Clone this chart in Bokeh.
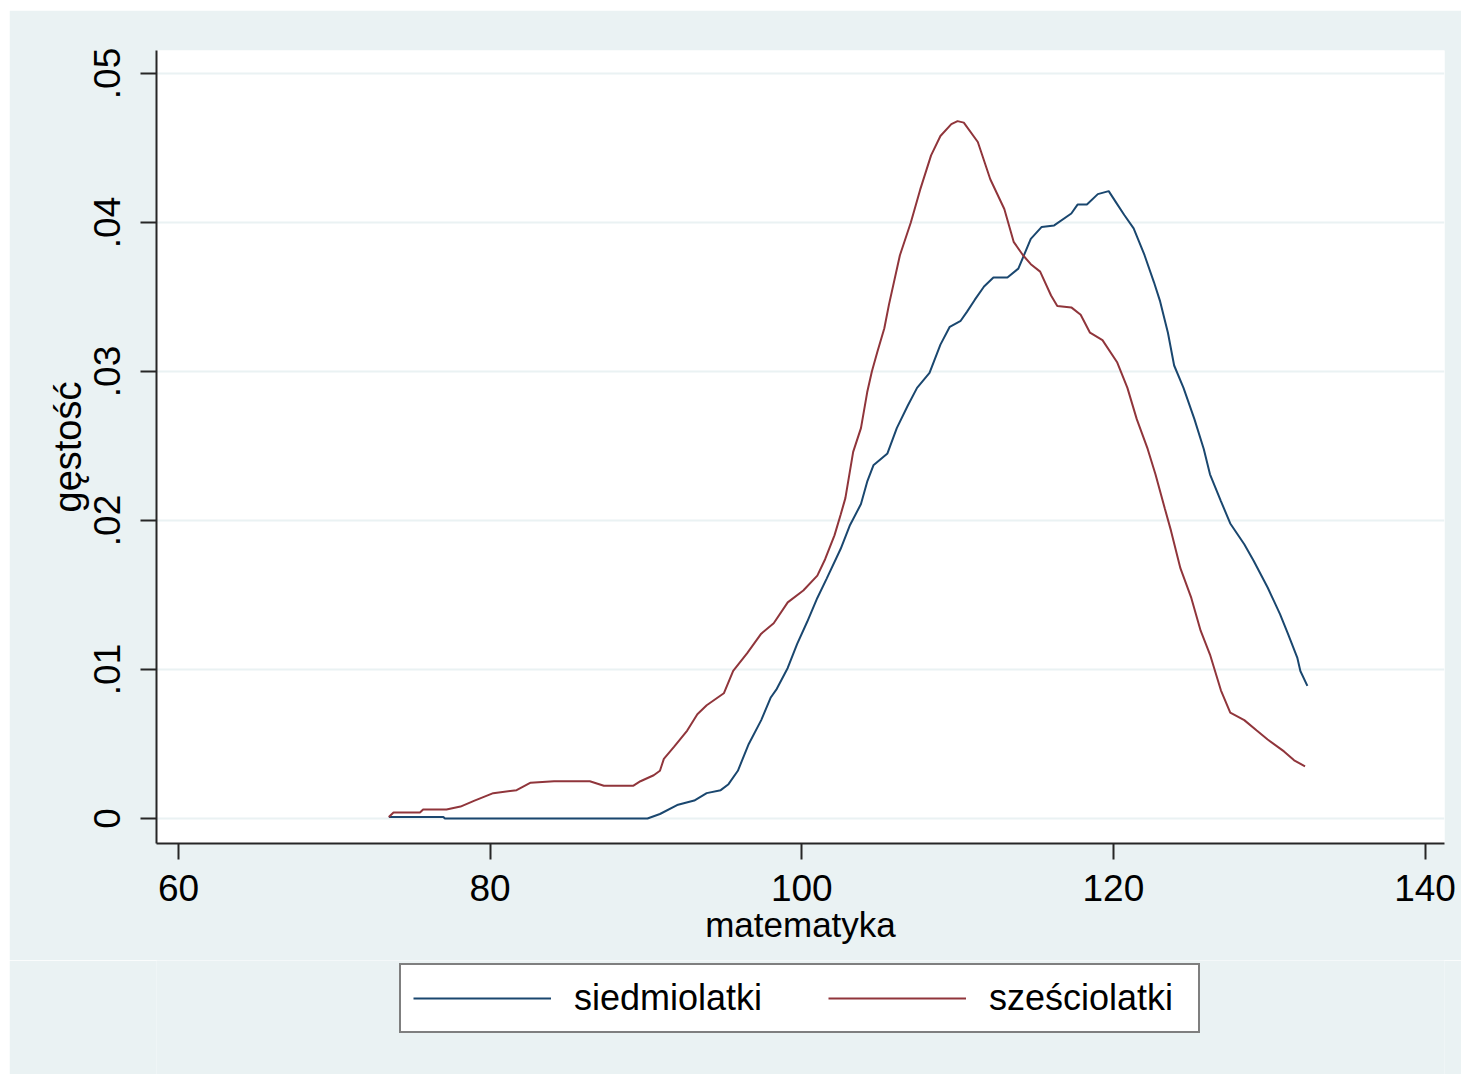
import math
from bokeh.plotting import figure
from bokeh.layouts import column
from bokeh.models import (Range1d, FixedTicker, CustomJSTickFormatter, Legend, LegendItem)
from bokeh.embed import file_html
from bokeh.resources import INLINE

# ---- data ----
siedmio_x = [73.5, 77.0, 77.1, 82.6, 90.1, 90.9, 92.0, 93.1, 93.9, 94.8, 95.3, 95.9, 96.6,
             97.4, 98.0, 98.4, 99.1, 99.7, 100.35, 101.0, 101.6, 102.5, 103.1, 103.8, 104.2,
             104.6, 105.5, 106.1, 106.8, 107.4, 108.2, 108.9, 109.5, 110.2, 110.6, 111.1,
             111.7, 112.3, 113.2, 113.9, 114.7, 115.4, 116.2, 117.3, 117.7, 118.3, 119.0,
             119.7, 120.2, 120.7, 121.3, 122.0, 122.6, 123.0, 123.5, 123.9, 124.5, 125.2,
             125.8, 126.2, 126.9, 127.5, 128.4, 129.0, 129.9, 130.3, 130.7, 131.2, 131.8,
             132.0, 132.45]
siedmio_y = [0.0001, 0.0001, 0.0000, 0.0000, 0.0000, 0.0003, 0.0009, 0.0012, 0.0017, 0.0019,
             0.0023, 0.0032, 0.0050, 0.0066, 0.0081, 0.0087, 0.0101, 0.0117, 0.0132, 0.0148,
             0.0161, 0.0181, 0.0197, 0.0211, 0.0226, 0.0237, 0.0245, 0.0262, 0.0277, 0.0289,
             0.0299, 0.0318, 0.0330, 0.0334, 0.0340, 0.0348, 0.0357, 0.0363, 0.0363, 0.0369,
             0.0389, 0.0397, 0.0398, 0.0406, 0.0412, 0.0412, 0.0419, 0.0421, 0.0413, 0.0405,
             0.0396, 0.0378, 0.0360, 0.0347, 0.0326, 0.0304, 0.0289, 0.0268, 0.0248, 0.0231,
             0.0213, 0.0198, 0.0184, 0.0173, 0.0155, 0.0146, 0.0137, 0.0124, 0.0108, 0.0099,
             0.0089]

szescio_x = [73.5, 73.8, 75.5, 75.7, 77.2, 78.1, 79.0, 80.2, 81.7, 82.6, 84.1, 86.4, 87.3,
             89.2, 89.65, 90.5, 90.9, 91.15, 91.8, 92.65, 93.3, 93.9, 95.0, 95.6, 96.5, 97.4,
             98.2, 99.1, 100.1, 101.0, 101.5, 102.1, 102.5, 102.8, 103.3, 103.8, 104.2, 104.5,
             104.85, 105.3, 105.6, 106.3, 107.0, 107.6, 108.3, 108.9, 109.6, 110.0, 110.4,
             111.3, 112.1, 113.0, 113.6, 114.2, 114.7, 115.3, 116.0, 116.4, 117.3, 117.9,
             118.5, 119.3, 120.25, 120.9, 121.5, 122.2, 122.7, 123.3, 123.7, 124.3, 125.0,
             125.6, 126.2, 126.9, 127.5, 128.4, 129.2, 129.9, 130.95, 131.6, 132.3]
szescio_y = [0.0001, 0.0004, 0.0004, 0.0006, 0.0006, 0.0008, 0.0012, 0.0017, 0.0019, 0.0024,
             0.0025, 0.0025, 0.0022, 0.0022, 0.0025, 0.0029, 0.0032, 0.0040, 0.0048, 0.0059,
             0.0070, 0.0076, 0.0084, 0.0099, 0.0111, 0.0124, 0.0131, 0.0145, 0.0153, 0.0163,
             0.0174, 0.0190, 0.0204, 0.0215, 0.0246, 0.0262, 0.0286, 0.0300, 0.0313, 0.0329,
             0.0345, 0.0378, 0.0400, 0.0422, 0.0445, 0.0458, 0.0466, 0.0468, 0.0467, 0.0454,
             0.0429, 0.0409, 0.0387, 0.0378, 0.0372, 0.0367, 0.0351, 0.0344, 0.0343, 0.0338,
             0.0326, 0.0321, 0.0306, 0.0289, 0.0268, 0.0248, 0.0231, 0.0208, 0.0193, 0.0168,
             0.0148, 0.0126, 0.0110, 0.0086, 0.0071, 0.0066, 0.0059, 0.0053, 0.0045, 0.0039,
             0.0035]

series_labels = ["siedmiolatki", "sześciolatki"]
x_ticks = [60, 80, 100, 120, 140]
y_ticks = [0, 0.01, 0.02, 0.03, 0.04, 0.05]
x_title = "matematyka"
y_title = "gęstość"

# ---- styling ----
BG = "#EAF2F3"
BLUE = "#1a476f"
RED = "#90353b"
AXIS = "#262626"
FONT = "Liberation Sans"

p = figure(width=1452, height=950,
           x_range=Range1d(58.59, 141.25), y_range=Range1d(-0.00168, 0.05154),
           output_backend="svg", toolbar_location=None,
           min_border_left=147, min_border_top=40, min_border_right=17,
           min_border_bottom=117)
p.margin = (10, 0, 0, 9)

p.background_fill_color = "white"
p.border_fill_color = BG
p.outline_line_color = None

p.line(siedmio_x, siedmio_y, line_color=BLUE, line_width=2)
p.line(szescio_x, szescio_y, line_color=RED, line_width=2)

# grid
p.xgrid.visible = False
p.ygrid.ticker = FixedTicker(ticks=y_ticks)
p.ygrid.grid_line_color = BG
p.ygrid.grid_line_width = 2

for ax in (p.xaxis[0], p.yaxis[0]):
    ax.axis_line_color = AXIS
    ax.axis_line_width = 2
    ax.major_tick_line_color = AXIS
    ax.major_tick_line_width = 2
    ax.major_tick_out = 16
    ax.major_tick_in = 0
    ax.minor_tick_line_color = None
    ax.major_label_text_font = FONT
    ax.major_label_text_color = "black"
    ax.axis_label_text_font = FONT
    ax.axis_label_text_font_style = "normal"
    ax.axis_label_text_color = "black"

# x axis
xa = p.xaxis[0]
xa.ticker = FixedTicker(ticks=x_ticks)
xa.axis_label = x_title
xa.major_label_text_font_size = "37px"
xa.axis_label_text_font_size = "35px"
xa.major_label_standoff = 15
xa.axis_label_standoff = 1

# y axis
ya = p.yaxis[0]
ya.ticker = FixedTicker(ticks=y_ticks)
ya.formatter = CustomJSTickFormatter(
    code="return tick == 0 ? '0' : tick.toFixed(2).replace(/^0/, '');")
ya.major_label_orientation = "parallel"
ya.major_label_text_font_size = "37px"
ya.major_label_standoff = 20
ya.axis_label = y_title
ya.axis_label_text_font_size = "38px"
ya.axis_label_standoff = 3

# ---- legend strip below the plot (its frame is aligned with the plot's frame) ----
p2 = figure(width=1452, height=114, x_range=Range1d(0, 1), y_range=Range1d(0, 1),
            output_backend="svg", toolbar_location=None,
            x_axis_location=None, y_axis_location=None, min_border=0)
p2.margin = (0, 0, 0, 9)
p2.background_fill_color = BG
p2.border_fill_color = BG
p2.outline_line_color = None
p2.grid.visible = False
# same series drawn off-screen here, only to provide the legend keys
k1 = p2.line(siedmio_x, siedmio_y, line_color=BLUE, line_width=2)
k2 = p2.line(szescio_x, szescio_y, line_color=RED, line_width=2)

legend = Legend(items=[LegendItem(label=series_labels[0], renderers=[k1]),
                       LegendItem(label=series_labels[1], renderers=[k2])],
                orientation="horizontal", location=(243, 41))
legend.border_line_color = "black"
legend.border_line_width = 2
legend.background_fill_color = "white"
legend.background_fill_alpha = 1
legend.glyph_width = 138
legend.glyph_height = 30
legend.label_standoff = 23
legend.label_width = 197
legend.spacing = 57
legend.padding = 12
legend.margin = 0
legend.label_text_font = FONT
legend.label_text_font_size = "36px"
legend.label_text_color = "black"
p2.add_layout(legend, "center")

layout = column(p, p2, spacing=0)
open("out.html", "w").write(file_html(layout, INLINE))
